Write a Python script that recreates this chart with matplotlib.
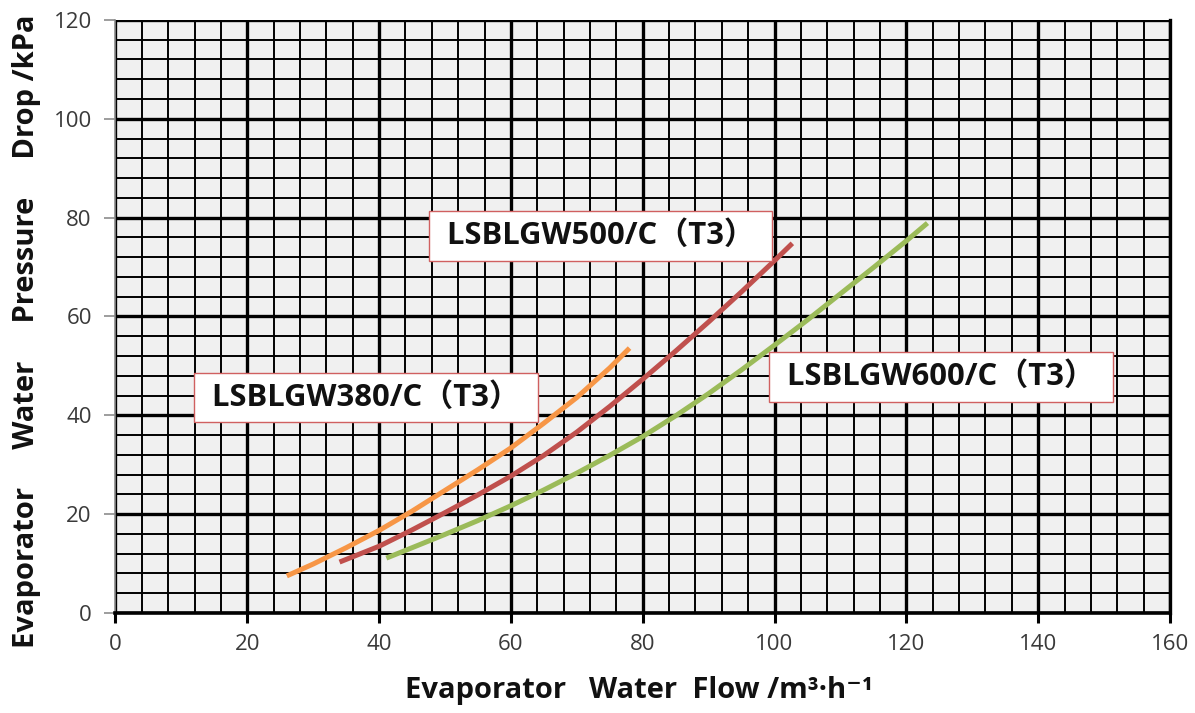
import matplotlib
matplotlib.use("Agg")
import matplotlib.pyplot as plt
from matplotlib.ticker import MultipleLocator

plt.rcParams['font.family'] = ['Open Sans', 'Noto Sans CJK SC', 'DejaVu Sans']

# --- data ---
flow_380 = [26.0, 30, 35, 40, 45, 50, 55, 60, 65, 70, 75, 78.0]
drop_380 = [7.5, 9.9, 13.2, 16.7, 20.6, 24.8, 29.0, 33.4, 38.4, 43.6, 49.6, 53.6]

flow_500 = [34.0, 40, 45, 50, 55, 60, 65, 70, 75, 80, 85, 90, 95, 100, 102.7]
drop_500 = [10.3, 13.5, 16.8, 20.3, 23.9, 27.7, 31.9, 36.6, 41.8, 47.3, 53.0, 58.9, 65.0, 71.3, 74.8]

flow_600 = [41.1, 45, 50, 55, 60, 65, 70, 75, 80, 85, 90, 95, 100, 105, 110, 115, 120, 123.2]
drop_600 = [11.1, 13.2, 15.9, 18.7, 21.7, 24.9, 28.3, 31.9, 35.7, 39.9, 44.4, 49.2, 54.2, 59.3, 64.6, 69.9, 75.3, 78.9]

series_names = ["LSBLGW380/C（T3）", "LSBLGW500/C（T3）", "LSBLGW600/C（T3）"]
label_pos = [(38.0, 43.6), (73.6, 76.3), (125.2, 47.8)]
colors = ["#F79646", "#C0504D", "#9BBB59"]

x_ticks = [0, 20, 40, 60, 80, 100, 120, 140, 160]
y_ticks = [0, 20, 40, 60, 80, 100, 120]

fig = plt.figure(figsize=(11.95, 7.13), dpi=100)
ax = fig.add_axes([0.0966, 0.1403, 0.8825, 0.8317])
ax.set_facecolor("#f0f0f0")

ax.set_xlim(0, 160)
ax.set_ylim(0, 120)
ax.set_xticks(x_ticks)
ax.set_yticks(y_ticks)
ax.xaxis.set_minor_locator(MultipleLocator(4))
ax.yaxis.set_minor_locator(MultipleLocator(4))

# graph paper grid
ax.grid(which="major", color="black", lw=2.4, zorder=1)
ax.grid(which="minor", color="black", lw=1.4, zorder=1)
ax.set_axisbelow(True)

ax.spines["top"].set_visible(False)
ax.spines["right"].set_color("black")
ax.spines["right"].set_linewidth(2.4)
ax.spines["left"].set_color("#8c8c8c")
ax.spines["left"].set_linewidth(1.2)
ax.spines["bottom"].set_color("black")
ax.spines["bottom"].set_linewidth(2.6)

ax.tick_params(axis="x", which="major", direction="out", length=7, width=2.2,
               color="black", labelsize=16, labelcolor="#3a3a3a", pad=8)
ax.tick_params(axis="y", which="major", direction="out", length=8, width=1.2,
               color="#8c8c8c", labelsize=16, labelcolor="#3a3a3a", pad=9)
ax.tick_params(which="minor", length=0)

curves = [(flow_380, drop_380), (flow_500, drop_500), (flow_600, drop_600)]
for (fx, dy), c in zip(curves, colors):
    ax.plot(fx, dy, color=c, lw=3.6, solid_capstyle="butt", zorder=3)

# series labels in boxes (leading/trailing space widens the box)
for name, (lx, ly) in zip(series_names, label_pos):
    ax.text(lx, ly, " " + name + " ", ha="center", va="center", fontsize=22.3,
            fontweight="bold", color="#111111", zorder=4,
            bbox=dict(boxstyle="square,pad=0.32", fc="white", ec="#d06060", lw=1.0))

fig.text(0.535, 0.032, "Evaporator   Water  Flow /m³·h⁻¹", ha="center", va="center",
         fontsize=21, fontweight="bold", color="#111111")
fig.text(0.022, 0.536, "Evaporator     Water     Pressure     Drop /kPa", rotation=90,
         ha="center", va="center", fontsize=21, fontweight="bold", color="#111111")

fig.savefig("out.png", dpi=100)
